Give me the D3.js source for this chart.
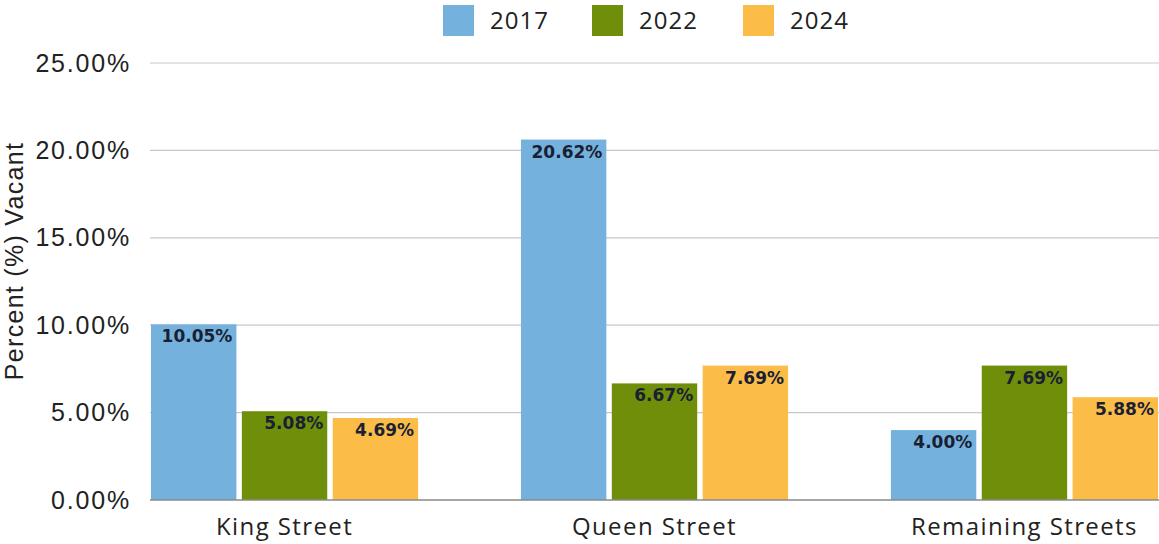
<!DOCTYPE html>
<html>
<head>
<meta charset="utf-8">
<script src="https://cdn.jsdelivr.net/npm/d3@7"></script>
<style>
  html, body { margin: 0; padding: 0; background: #fff; }
  svg { display: block; }
</style>
</head>
<body>
<svg id="chart" width="1159" height="544"></svg>
<script>
const categories = ["King Street", "Queen Street", "Remaining Streets"];
const seriesNames = ["2017", "2022", "2024"];
const values2017 = [10.05, 20.62, 4.00];
const values2022 = [5.08, 6.67, 7.69];
const values2024 = [4.69, 7.69, 5.88];
const yTicks = [0, 5, 10, 15, 20, 25];
const colors = ["#74B2DD", "#6F8F0B", "#FBBC48"];

(function () {
const seriesValues = [values2017, values2022, values2024];
const rows = categories.map((c, i) => ({
  category: c,
  bars: seriesNames.map((s, j) => ({ series: s, value: seriesValues[j][i], idx: j }))
}));

const svg = d3.select("#chart");
const W = 1159;
const mLeft = 151, mRight = 1158, mTop = 63, mBottom = 500;

const x0 = d3.scaleBand().domain(categories).range([mLeft, mRight]).paddingInner(0.278).paddingOuter(0);
const x1 = d3.scaleBand().domain(seriesNames).range([0, x0.bandwidth()]).paddingInner(0.06).paddingOuter(0);
const y = d3.scaleLinear().domain([0, 25]).range([mBottom, mTop]);
const color = d3.scaleOrdinal().domain(seriesNames).range(colors);

// gridlines
svg.append("g")
  .selectAll("line")
  .data(yTicks.filter(t => t > 0))
  .join("line")
  .attr("x1", 150).attr("x2", W)
  .attr("y1", d => y(d)).attr("y2", d => y(d))
  .attr("stroke", "#c8c8c8").attr("stroke-width", 1.2);

// y axis labels
const yAxis = d3.axisLeft(y).tickValues(yTicks).tickSize(0).tickPadding(0)
  .tickFormat(d => d3.format(".2f")(d) + "%");
const gy = svg.append("g").attr("transform", "translate(131,0)").call(yAxis);
gy.select(".domain").remove();
gy.selectAll("text")
  .attr("font-family", "'Liberation Sans', Arial, sans-serif")
  .attr("font-size", 25)
  .attr("letter-spacing", 1.8)
  .attr("fill", "#222");

// y axis title
svg.append("text")
  .attr("transform", "translate(23,261) rotate(-90)")
  .attr("text-anchor", "middle")
  .attr("font-family", "'Liberation Sans', Arial, sans-serif")
  .attr("font-size", 25)
  .attr("letter-spacing", 1.3)
  .attr("fill", "#222")
  .text("Percent (%) Vacant");

// bars
const groups = svg.append("g").selectAll("g")
  .data(rows).join("g")
  .attr("transform", d => `translate(${x0(d.category)},0)`);

groups.selectAll("rect")
  .data(d => d.bars).join("rect")
  .attr("x", d => x1(d.series))
  .attr("y", d => y(d.value))
  .attr("width", x1.bandwidth())
  .attr("height", d => y(0) - y(d.value))
  .attr("fill", d => color(d.series));

groups.selectAll("text.lbl")
  .data(d => d.bars).join("text")
  .attr("class", "lbl")
  .attr("x", d => x1(d.series) + x1.bandwidth() - 4)
  .attr("y", d => y(d.value) + 18)
  .attr("text-anchor", "end")
  .attr("font-family", "'DejaVu Sans', Verdana, sans-serif")
  .attr("font-weight", 700)
  .attr("font-size", 17)
  .attr("fill", "#1a1f33")
  .text(d => d3.format(".2f")(d.value) + "%");

// baseline
svg.append("line")
  .attr("x1", 150).attr("x2", W)
  .attr("y1", y(0)).attr("y2", y(0))
  .attr("stroke", "#8a8a8a").attr("stroke-width", 1.5);

// x axis labels
const xAxis = d3.axisBottom(x0).tickSize(0).tickPadding(0);
const gx = svg.append("g").attr("transform", `translate(0,${mBottom})`).call(xAxis);
gx.select(".domain").remove();
gx.selectAll("text")
  .attr("dy", null)
  .attr("y", 35)
  .attr("font-family", "'Open Sans', sans-serif")
  .attr("font-size", 24)
  .attr("letter-spacing", 1.4)
  .attr("fill", "#222");

// legend
const legendX = [443, 592, 743];
const legend = svg.append("g").selectAll("g")
  .data(seriesNames).join("g")
  .attr("transform", (d, i) => `translate(${legendX[i]},5)`);
legend.append("rect")
  .attr("width", 31).attr("height", 31)
  .attr("fill", d => color(d));
legend.append("text")
  .attr("x", 47).attr("y", 24)
  .attr("font-family", "'Open Sans', sans-serif")
  .attr("font-size", 24)
  .attr("letter-spacing", 1)
  .attr("fill", "#222")
  .text(d => d);
})();
</script>
</body>
</html>
